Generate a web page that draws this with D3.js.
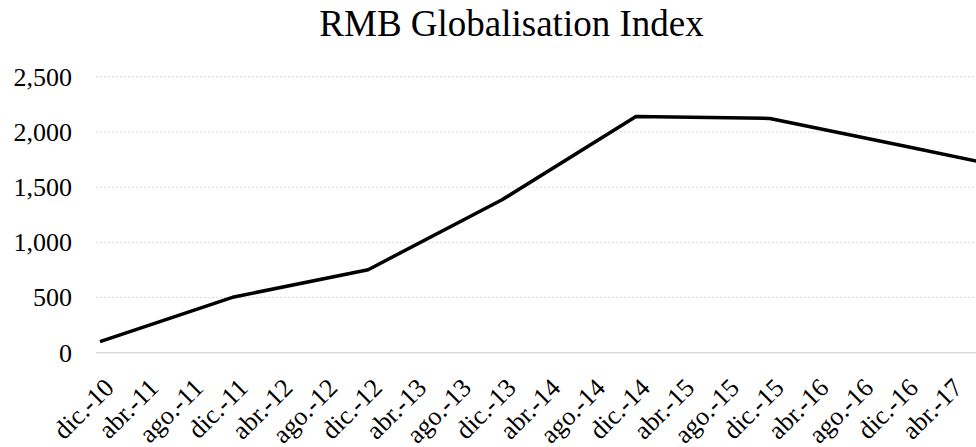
<!DOCTYPE html>
<html>
<head>
<meta charset="utf-8">
<script src="https://cdn.jsdelivr.net/npm/d3@7"></script>
<style>
  html, body { margin: 0; padding: 0; background: #fff; overflow: hidden; }
  svg { display: block; font-family: "Liberation Serif", "Times New Roman", serif; }
</style>
</head>
<body>
<svg id="chart" width="976" height="447"></svg>
<script>
// ---- data ----
const title = "RMB Globalisation Index";
const pointDates = ["2010-12", "2011-12", "2012-12", "2013-12", "2014-12", "2015-12", "2016-12", "2017-12"];
const indexValues = [100, 505, 752, 1385, 2140, 2122, 1872, 1620];
const yTicks = [0, 500, 1000, 1500, 2000, 2500];
const tickDates = ["2010-12", "2011-04", "2011-08", "2011-12", "2012-04", "2012-08", "2012-12",
  "2013-04", "2013-08", "2013-12", "2014-04", "2014-08", "2014-12", "2015-04", "2015-08",
  "2015-12", "2016-04", "2016-08", "2016-12", "2017-04"];
const tickLabels = ["dic.-10", "abr.-11", "ago.-11", "dic.-11", "abr.-12", "ago.-12", "dic.-12",
  "abr.-13", "ago.-13", "dic.-13", "abr.-14", "ago.-14", "dic.-14", "abr.-15", "ago.-15",
  "dic.-15", "abr.-16", "ago.-16", "dic.-16", "abr.-17"];

// ---- layout ----
const W = 976, H = 447;
const parse = d3.timeParse("%Y-%m");
const svg = d3.select("#chart");

const x = d3.scaleTime()
  .domain([parse("2010-12"), parse("2017-12")])
  .range([100, 1038]);
const y = d3.scaleLinear().domain([0, 2500]).range([352.7, 76.7]);

const plotLeft = 96;

// title
svg.append("text")
  .attr("x", 511.5).attr("y", 36)
  .attr("text-anchor", "middle")
  .attr("font-size", 37)
  .attr("font-family", "Liberation Serif")
  .attr("fill", "#000")
  .text(title);

// gridlines
svg.append("g").selectAll("line")
  .data(yTicks.filter(d => d > 0))
  .join("line")
  .attr("x1", plotLeft).attr("x2", W)
  .attr("y1", d => y(d)).attr("y2", d => y(d))
  .attr("stroke", "#d9d9d9")
  .attr("stroke-width", 1)
  .attr("stroke-dasharray", "2,2");

// y axis labels
const yAxis = d3.axisLeft(y).tickValues(yTicks).tickSize(0).tickPadding(0)
  .tickFormat(d3.format(","));
const gy = svg.append("g").attr("transform", "translate(72,0)").call(yAxis);
gy.select(".domain").remove();
gy.selectAll("text").attr("font-size", 26).attr("font-family", "Liberation Serif").attr("fill", "#000");

// x axis baseline
svg.append("line")
  .attr("x1", plotLeft).attr("x2", W)
  .attr("y1", y(0)).attr("y2", y(0))
  .attr("stroke", "#d9d9d9").attr("stroke-width", 1.5);

// x axis labels
const labelMap = new Map(tickDates.map((d, i) => [+parse(d), tickLabels[i]]));
const xAxis = d3.axisBottom(x).tickValues(tickDates.map(parse)).tickSize(0)
  .tickFormat(d => labelMap.get(+d));
const gx = svg.append("g").attr("transform", `translate(0,${y(0)})`).call(xAxis);
gx.select(".domain").remove();
gx.selectAll("text")
  .attr("font-size", 26)
  .attr("font-family", "Liberation Serif")
  .attr("fill", "#000")
  .attr("text-anchor", "end")
  .attr("dy", null)
  .attr("y", 0)
  .attr("transform", "translate(15,36.5) rotate(-45)");

// line
const line = d3.line()
  .x((d, i) => x(parse(pointDates[i])))
  .y(d => y(d));
svg.append("path")
  .datum(indexValues)
  .attr("d", line)
  .attr("fill", "none")
  .attr("stroke", "#000")
  .attr("stroke-width", 3.5)
  .attr("stroke-linejoin", "round");
</script>
</body>
</html>
